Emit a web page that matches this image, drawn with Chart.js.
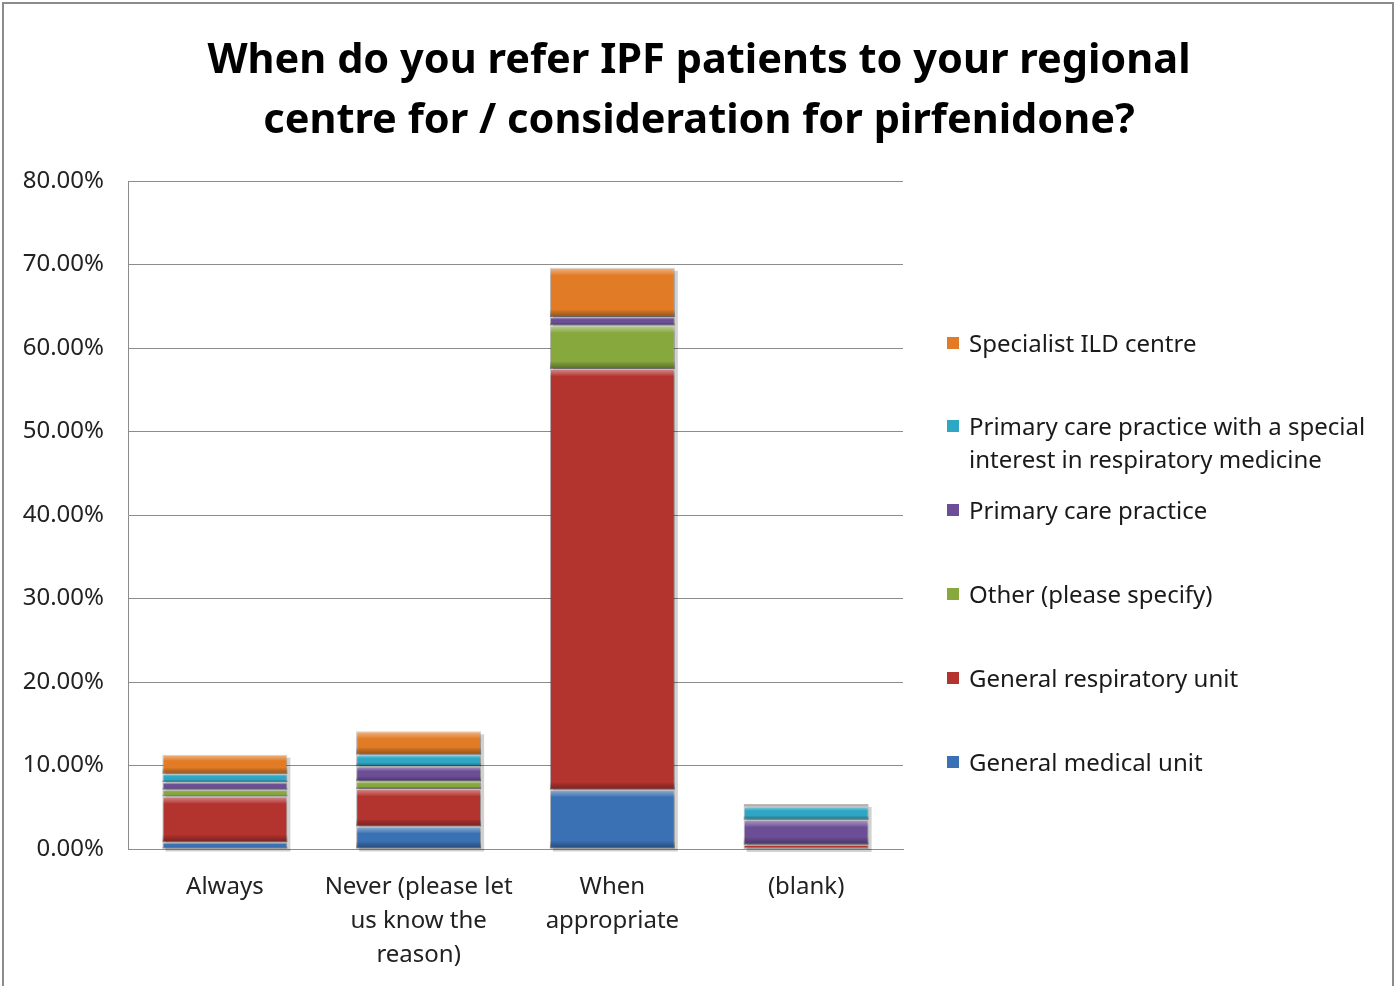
<!DOCTYPE html>
<html>
<head>
<meta charset="utf-8">
<script src="https://cdn.jsdelivr.net/npm/chart.js@4/dist/chart.umd.min.js"></script>
<style>
  body { margin: 0; background: #fff; font-family: "Noto Sans", sans-serif; }
  #wrap { position: relative; width: 1395px; height: 986px; overflow: hidden; }
  #frame { position: absolute; left: 2px; top: 2px; width: 1388px; height: 1000px; border: 2px solid #8c8c8c; }
  #title { position: absolute; left: 0; top: 27px; width: 1398px; text-align: center; font-weight: bold; font-size: 41.5px; line-height: 60px; color: #000; }
  #legend { position: absolute; left: 947px; top: 0; font-size: 24px; color: #1a1a1a; }
  .item { position: absolute; left: 0; white-space: nowrap; line-height: 33px; }
  .item span.box { position: absolute; left: 0; top: 11px; width: 12px; height: 12px; }
  .item span.txt { position: absolute; left: 22px; top: 0; }
  canvas { position: absolute; left: 0; top: 0; }
</style>
</head>
<body>
<div id="wrap">
  <div id="frame"></div>
  <canvas id="chart" width="1395" height="986"></canvas>
  <div id="title">When do you refer IPF patients to your regional<br>centre for / consideration for pirfenidone?</div>
  <div id="legend"></div>
</div>
<script>
const categories = [['Always'], ['Never (please let', 'us know the', 'reason)'], ['When', 'appropriate'], ['(blank)']];
const yTicks = [0, 10, 20, 30, 40, 50, 60, 70, 80];

// series, bottom to top of each stack
const generalMedical = [0.8, 2.7, 7.1, 0];
const generalResp = [5.5, 4.5, 50.4, 0.5];
const otherSpecify = [0.8, 0.9, 5.2, 0];
const primaryCare = [0.9, 1.8, 1.0, 3.0];
const primaryCareSpecial = [1.0, 1.4, 0, 1.6];
const specialistILD = [2.3, 2.8, 5.9, 0.3];

const seriesNames = ['General medical unit', 'General respiratory unit', 'Other (please specify)',
  'Primary care practice', ['Primary care practice with a special', 'interest in respiratory medicine'], 'Specialist ILD centre'];
const seriesData = [generalMedical, generalResp, otherSpecify, primaryCare, primaryCareSpecial, specialistILD];
const colors = ['#3a70b4', '#b3332f', '#86a83d', '#6b4e96', '#2fa7c4', '#e27b25'];
const legendY = [761, 677, 593, 509, 425, 342];

// legend (top to bottom is reverse of series order)
const legend = document.getElementById('legend');
seriesNames.forEach((name, i) => {
  const div = document.createElement('div');
  div.className = 'item';
  div.style.top = legendY[i] - 16 + 'px';
  const box = document.createElement('span');
  box.className = 'box';
  box.style.background = colors[i];
  const txt = document.createElement('span');
  txt.className = 'txt';
  txt.innerHTML = Array.isArray(name) ? name.join('<br>') : name;
  div.appendChild(box);
  div.appendChild(txt);
  legend.appendChild(div);
});

// soft bevel look on each bar segment
const bevel = {
  id: 'bevel',
  beforeDatasetsDraw(chart) {
    // drop shadow under each stack
    const ctx = chart.ctx;
    const metas = chart.data.datasets.map((d, i) => chart.getDatasetMeta(i));
    metas[0].data.forEach((bar, j) => {
      let top = bar.base;
      metas.forEach(m => { top = Math.min(top, m.data[j].y); });
      ctx.save();
      ctx.fillStyle = 'rgba(0,0,0,0.18)';
      ctx.fillRect(bar.x - bar.width / 2 + 3, top + 3, bar.width, bar.base - top);
      ctx.restore();
    });
  },
  afterDatasetsDraw(chart) {
    const ctx = chart.ctx;
    chart.data.datasets.forEach((ds, i) => {
      chart.getDatasetMeta(i).data.forEach(bar => {
        const h = Math.abs(bar.base - bar.y);
        if (h < 1) return;
        const left = bar.x - bar.width / 2;
        const s = Math.min(7, h * 0.3);
        ctx.save();
        let g = ctx.createLinearGradient(0, bar.y, 0, bar.y + s);
        g.addColorStop(0, 'rgba(255,255,255,0.45)');
        g.addColorStop(1, 'rgba(255,255,255,0.05)');
        ctx.fillStyle = g;
        ctx.fillRect(left, bar.y, bar.width, s);
        g = ctx.createLinearGradient(0, bar.base - s, 0, bar.base);
        g.addColorStop(0, 'rgba(0,0,0,0.05)');
        g.addColorStop(1, 'rgba(0,0,0,0.35)');
        ctx.fillStyle = g;
        ctx.fillRect(left, bar.base - s, bar.width, s);
        ctx.restore();
      });
    });
  }
};

new Chart(document.getElementById('chart'), {
  type: 'bar',
  data: {
    labels: categories,
    datasets: seriesData.map((d, i) => ({
      label: Array.isArray(seriesNames[i]) ? seriesNames[i].join(' ') : seriesNames[i],
      data: d,
      backgroundColor: colors[i],
      borderColor: 'rgba(0,0,0,0.3)',
      borderWidth: 1,
      borderSkipped: false,
      categoryPercentage: 1,
      barPercentage: 0.645
    }))
  },
  options: {
    responsive: false,
    animation: false,
    layout: { padding: { top: 181, left: 18, right: 492, bottom: 0 } },
    plugins: { legend: { display: false }, tooltip: { enabled: false } },
    scales: {
      x: {
        stacked: true,
        grid: { display: false },
        border: { color: '#8c8c8c', width: 1 },
        ticks: { color: '#222', font: { size: 24, family: 'Noto Sans', lineHeight: 1.42 }, padding: 13, maxRotation: 0, autoSkip: false },
        afterFit: s => { s.height = 137; }
      },
      y: {
        stacked: true,
        min: 0,
        max: 80,
        afterBuildTicks: s => { s.ticks = yTicks.map(v => ({ value: v })); },
        grid: { color: '#8c8c8c', drawTicks: false },
        border: { color: '#8c8c8c', width: 1 },
        ticks: { color: '#222', font: { size: 24, family: 'Noto Sans' }, padding: 24, callback: v => v.toFixed(2) + '%' },
        afterFit: s => { s.width = 110; }
      }
    }
  },
  plugins: [bevel]
});
</script>
</body>
</html>
